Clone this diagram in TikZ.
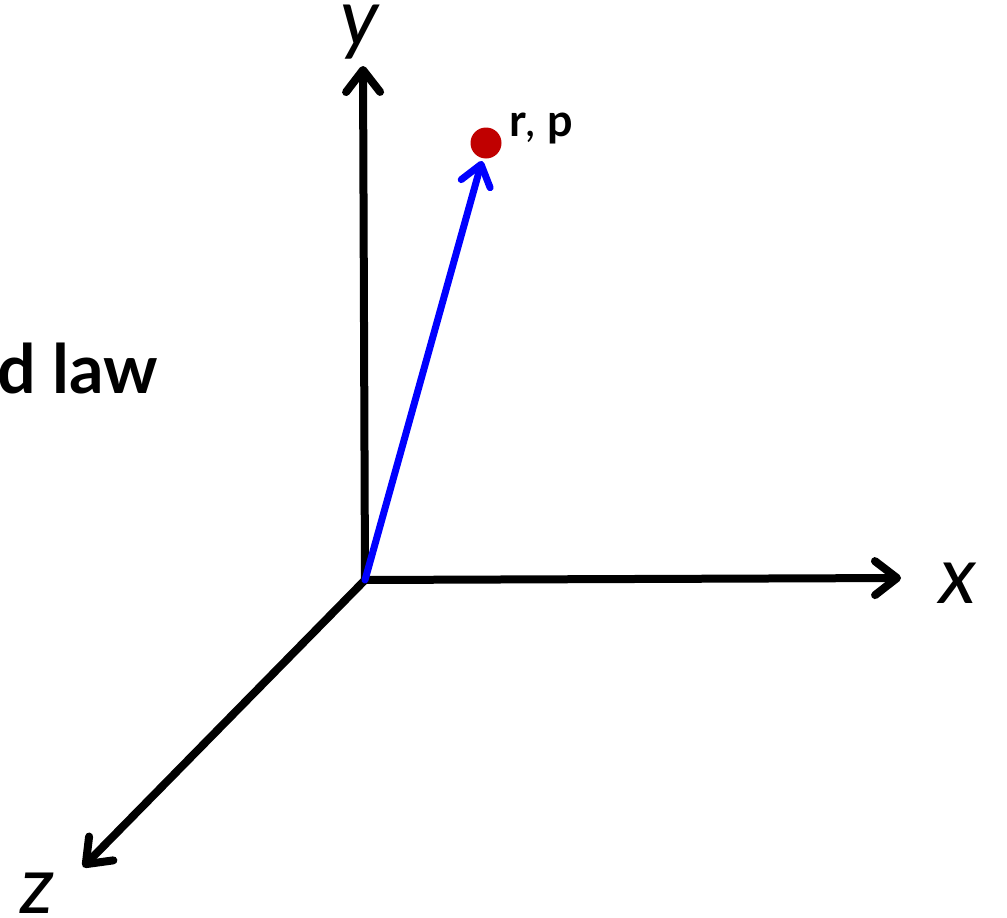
\documentclass[tikz,border=0pt]{standalone}
\usepackage{fontspec}
\setmainfont{Lato}
\usetikzlibrary{arrows.meta}
\definecolor{dotred}{RGB}{192,0,0}
\definecolor{vecblue}{RGB}{0,0,255}
\begin{document}
\begin{tikzpicture}[x=1pt,y=-1pt,
  axis/.style={line width=8pt,line cap=round,-{Straight Barb[length=22pt,width=34pt,line width=8pt,line cap=round,line join=round]}},
  vec/.style={line width=7pt,color=vecblue,line cap=round,-{Straight Barb[length=20pt,width=30pt,line width=7pt,line cap=round,line join=round]}},
  lab/.style={font=\fontsize{80}{80}\selectfont\itshape,inner sep=0pt}]
\useasboundingbox (0,0) rectangle (1007,918);
\coordinate (o) at (365,580);
\coordinate (ytip) at (363,66);
\coordinate (xtip) at (901,578);
\coordinate (ztip) at (83,867);
\node[circle,fill=dotred,minimum size=31pt,inner sep=0pt] (p) at (486,143) {};
\coordinate (vtip) at (482,161);
\draw[axis] (o) -- (ytip);
\draw[axis] (o) -- (xtip);
\draw[axis] (o) -- (ztip);
\draw[vec] (o) -- (vtip);
\node[lab,anchor=base] (ylab) at (360,45) {y};
\node[lab,anchor=base] (xlab) at (958,603) {x};
\node[lab,anchor=base] (zlab) at (37,913) {z};
\node[inner sep=0pt,anchor=base west,font=\fontsize{45}{45}\selectfont] (rp) at (509,136) {\textbf{r}, \textbf{p}};
\node[inner sep=0pt,anchor=base west,font=\fontsize{68}{68}\selectfont\bfseries] (law) at (-3,393) {d law};
\end{tikzpicture}
\end{document}
